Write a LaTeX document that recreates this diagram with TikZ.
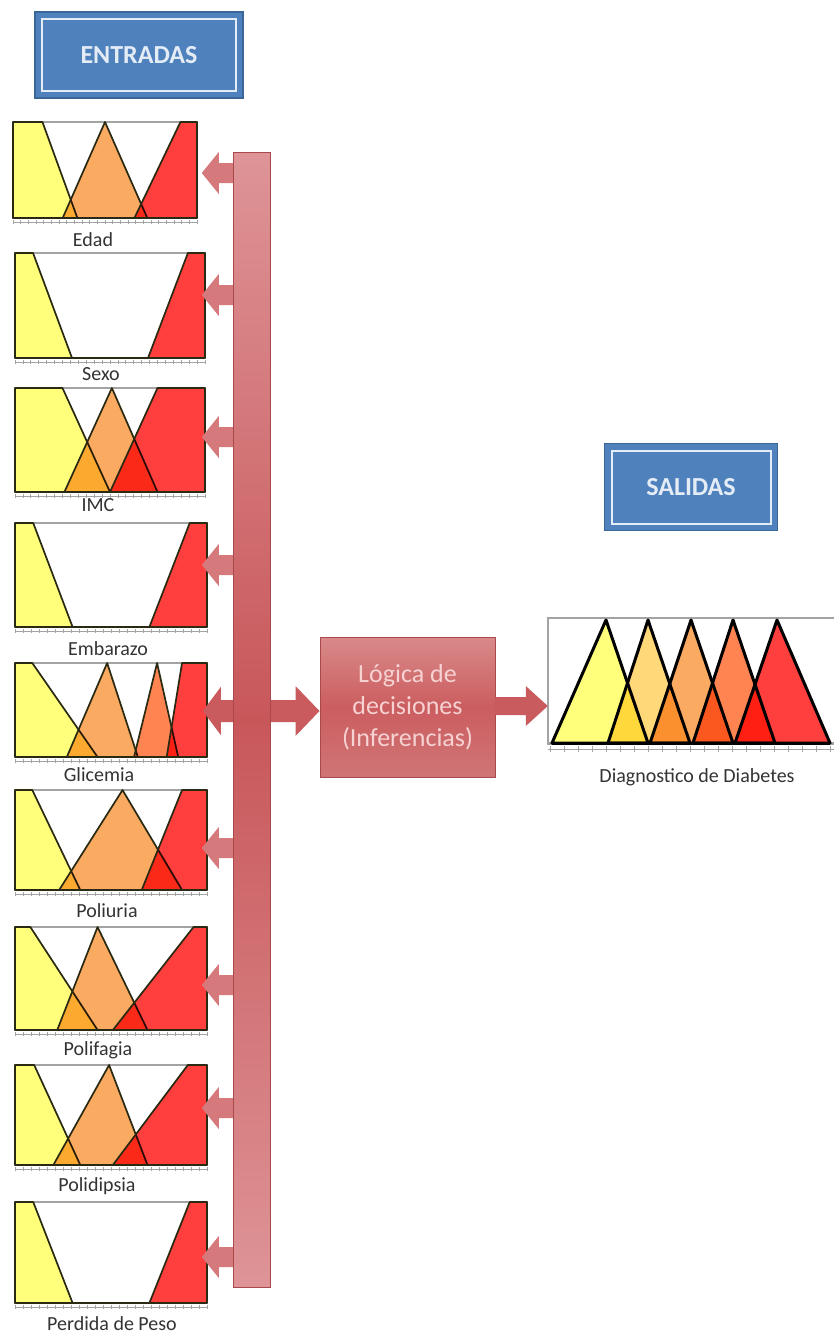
\documentclass[tikz,border=0pt]{standalone}
\usepackage{fontspec}
\setmainfont{Carlito}
\usetikzlibrary{calc,fit}

\definecolor{mfyellow}{HTML}{FFFF7C}
\definecolor{mfpale}{HTML}{FFD87A}
\definecolor{mforange}{HTML}{FBAA62}
\definecolor{mfdorange}{HTML}{FF8452}
\definecolor{mfred}{HTML}{FF3E3E}
\definecolor{mfedge}{HTML}{2A2A12}
\definecolor{mfgray}{HTML}{A3A3A3}
\definecolor{boxblue}{HTML}{4F81BD}
\definecolor{boxblueedge}{HTML}{3B6698}
\definecolor{boxtext}{HTML}{E4ECF6}
\definecolor{barlight}{HTML}{DE9497}
\definecolor{bardark}{HTML}{C8575A}
\definecolor{baredge}{HTML}{A9494C}
\definecolor{arrowpink}{HTML}{D5797C}
\definecolor{arrowred}{HTML}{C95A5D}
\definecolor{logtop}{HTML}{D98A8B}
\definecolor{logmid}{HTML}{CB5D5F}
\definecolor{logbot}{HTML}{D07577}
\definecolor{logtext}{HTML}{F6D2D2}

\tikzset{
  mfframe/.style={draw=mfgray, line width=2.6pt, fill=white, inner sep=0pt},
  mfline/.style={draw=mfedge, line width=1.7pt, line join=round},
  mfbold/.style={draw=black, line width=3pt, line join=round},
  mfbase/.style={draw=mfedge, line width=1.8pt},
  mftick/.style={draw=mfgray, line width=0.8pt},
  lbl/.style={font=\fontsize{20}{24}\selectfont, text=black!80, inner sep=0pt, anchor=base},
  bluebox/.style={draw=boxblueedge, line width=1.5pt, fill=boxblue,
    text=boxtext, font=\fontsize{26}{30}\selectfont\bfseries,
    path picture={\draw[boxtext, line width=2pt]
      ([shift={(7pt,7pt)}]path picture bounding box.south west) rectangle
      ([shift={(-7pt,-7pt)}]path picture bounding box.north east);}},
  barbox/.style={draw=baredge, line width=1pt, inner sep=0pt,
    top color=barlight, bottom color=barlight, middle color=bardark},
  logbox/.style={draw=baredge, line width=1pt, top color=logtop,
    bottom color=logbot, middle color=logmid, text=logtext,
    font=\fontsize{26}{32}\selectfont, align=center,
    minimum width=175pt, minimum height=140pt},
  arrowfill/.style={fill=arrowpink},
  bigarrow/.style={fill=arrowred},
}

% membership function: fill blended, then outline
\newcommand{\mfshape}[2]{%
  \begin{scope}[blend mode=multiply]\fill[#1] #2 -- cycle;\end{scope}
  \draw[mfline] #2 -- cycle;}

% panel: name, x0, top, x1, bottom, shapes (in unit coordinates)
\newcommand{\mfpanel}[6]{%
  \node[mfframe, fit={(#2,#3) (#4,#5)}] (#1) {};
  \pgfmathsetmacro\mfw{#4-#2}\pgfmathsetmacro\mfh{#5-#3}
  \begin{scope}[shift={(#2,#5)}, x=\mfw pt, y=\mfh pt]
    #6
  \end{scope}
  \draw[mfbase] (#2,#5) -- (#4,#5);
  \pgfmathsetmacro\mfstep{(#4-#2)/24}
  \draw[mftick] (#2,#5+4) -- (#4,#5+4);
  \foreach \k in {0,...,24}{\draw[mftick] ({#2+\k*\mfstep},#5+2) -- ({#2+\k*\mfstep},#5+6);}
}

% left-pointing block arrow from the bus bar at height #1
\newcommand{\inarrow}[1]{%
  \coordinate (ay) at (0,#1);
  \coordinate (ab) at (barW |- ay);
  \fill[arrowfill] ($(ab)+(3,-10)$) -- ($(ab)+(-14,-10)$) -- ($(ab)+(-14,-21)$)
    -- ($(ab)+(-31,0)$) -- ($(ab)+(-14,21)$) -- ($(ab)+(-14,10)$)
    -- ($(ab)+(3,10)$) -- cycle;}

\begin{document}
\begin{tikzpicture}[x=1pt, y=-1pt]
\useasboundingbox (0,0) rectangle (835,1333);
\fill[white] (0,0) rectangle (835,1333);

% header boxes
\node[bluebox, minimum width=208pt, minimum height=86pt] (entradas) at (139,55) {ENTRADAS};
\node[bluebox, minimum width=173pt, minimum height=87pt] (salidas) at (691,487) {SALIDAS};

% input variables
\mfpanel{edad}{13}{122}{197}{218}{%
  \mfshape{mfyellow}{(0,0)--(0,1)--(.16,1)--(.35,0)}
  \mfshape{mforange}{(.27,0)--(.5,1)--(.73,0)}
  \mfshape{mfred}{(.66,0)--(.91,1)--(1,1)--(1,0)}}
\node[lbl] (edadlbl) at (93,246) {Edad};

\mfpanel{sexo}{15}{253}{205}{358}{%
  \mfshape{mfyellow}{(0,0)--(0,1)--(.095,1)--(.30,0)}
  \mfshape{mfred}{(.70,0)--(.91,1)--(1,1)--(1,0)}}
\node[lbl] (sexolbl) at (101,380) {Sexo};

\mfpanel{imc}{15}{388}{205}{492}{%
  \mfshape{mfyellow}{(0,0)--(0,1)--(.25,1)--(.50,0)}
  \mfshape{mforange}{(.26,0)--(.51,1)--(.75,0)}
  \mfshape{mfred}{(.50,0)--(.75,1)--(1,1)--(1,0)}}
\node[lbl] (imclbl) at (98,511) {IMC};

\mfpanel{embarazo}{15}{523}{207}{627}{%
  \mfshape{mfyellow}{(0,0)--(0,1)--(.095,1)--(.30,0)}
  \mfshape{mfred}{(.70,0)--(.91,1)--(1,1)--(1,0)}}
\node[lbl] (embarazolbl) at (108,655) {Embarazo};

\mfpanel{glicemia}{15}{663}{207}{757}{%
  \mfshape{mfyellow}{(0,0)--(0,1)--(.09,1)--(.43,0)}
  \mfshape{mforange}{(.27,0)--(.48,1)--(.64,0)}
  \mfshape{mfdorange}{(.62,0)--(.74,1)--(.85,0)}
  \mfshape{mfred}{(.79,0)--(.87,1)--(1,1)--(1,0)}}
\node[lbl] (glicemialbl) at (99,781) {Glicemia};

\mfpanel{poliuria}{15}{790}{207}{890}{%
  \mfshape{mfyellow}{(0,0)--(0,1)--(.09,1)--(.34,0)}
  \mfshape{mforange}{(.23,0)--(.56,1)--(.87,0)}
  \mfshape{mfred}{(.66,0)--(.87,1)--(1,1)--(1,0)}}
\node[lbl] (poliurialbl) at (107,917) {Poliuria};

\mfpanel{polifagia}{15}{927}{207}{1030}{%
  \mfshape{mfyellow}{(0,0)--(0,1)--(.08,1)--(.43,0)}
  \mfshape{mforange}{(.22,0)--(.43,1)--(.69,0)}
  \mfshape{mfred}{(.51,0)--(.93,1)--(1,1)--(1,0)}}
\node[lbl] (polifagialbl) at (98,1055) {Polifagia};

\mfpanel{polidipsia}{15}{1065}{207}{1165}{%
  \mfshape{mfyellow}{(0,0)--(0,1)--(.10,1)--(.34,0)}
  \mfshape{mforange}{(.20,0)--(.49,1)--(.69,0)}
  \mfshape{mfred}{(.51,0)--(.90,1)--(1,1)--(1,0)}}
\node[lbl] (polidipsialbl) at (97,1191) {Polidipsia};

\mfpanel{perdida}{15}{1202}{207}{1303}{%
  \mfshape{mfyellow}{(0,0)--(0,1)--(.095,1)--(.30,0)}
  \mfshape{mfred}{(.70,0)--(.91,1)--(1,1)--(1,0)}}
\node[lbl] (perdidalbl) at (112,1330) {Perdida de Peso};

% inference block and output variable
\node[logbox] (logica) at (407.5,707) {Lógica de\\decisiones\\(Inferencias)};

\node[inner sep=0pt, fit={(548,618) (834,743)}] (salida) {};
\fill[white] (salida.north west) rectangle (salida.south east);
\begin{scope}[blend mode=multiply]
  \fill[mfyellow]  (552,743) -- (606,620) -- (648,743) -- cycle;
  \fill[mfpale]    (608,743) -- (648,620) -- (690,743) -- cycle;
  \fill[mforange]  (650,743) -- (691,620) -- (733,743) -- cycle;
  \fill[mfdorange] (693,743) -- (733,620) -- (775,743) -- cycle;
  \fill[mfred]     (735,743) -- (777,620) -- (830,743) -- cycle;
\end{scope}
\draw[mfgray, line width=2.6pt] (salida.north east) -- (salida.north west)
  -- (salida.south west) -- (salida.south east);
\foreach \a/\p/\b in {552/606/648, 608/648/690, 650/691/733, 693/733/775, 735/777/830}
  \draw[mfbold] (\a,743) -- (\p,620) -- (\b,743) -- cycle;
\draw[mfbold] (552,743) -- (830,743);
\draw[mftick] (548,749) -- (834,749);
\foreach \k in {0,...,20}{\draw[mftick] ({550+\k*14},746) -- ({550+\k*14},752);}
\node[lbl] (salidalbl) at (697,782) {Diagnostico de Diabetes};

% bus bar geometry (drawn after the arrows)
\node[inner sep=0pt, fit={(233,152) (270,1287)}] (barpos) {};
\path (barpos.west) coordinate (barW) (barpos.east) coordinate (barE);

% arrows from the bus bar to every input
\foreach \yy in {173,295,437,565,848,985,1108,1257}{\inarrow{\yy}}

% Glicemia arrow runs on through the bar into the inference block
\coordinate (gy) at (0,711);
\coordinate (gl) at (barW |- gy);
\coordinate (gr) at (logica.west |- gy);
\fill[bigarrow] ($(gl)+(-30,0)$) -- ($(gl)+(-12,-24)$) -- ($(gl)+(-12,-11)$)
  -- ($(gr)+(-24,-11)$) -- ($(gr)+(-24,-25)$) -- (gr) -- ($(gr)+(-24,25)$)
  -- ($(gr)+(-24,11)$) -- ($(gl)+(-12,11)$) -- ($(gl)+(-12,24)$) -- cycle;

% inference block to output
\coordinate (oy) at (0,706);
\coordinate (ol) at (logica.east |- oy);
\coordinate (or) at (salida.west |- oy);
\fill[bigarrow] ($(ol)+(-1,-9)$) -- ($(or)+(-22,-9)$) -- ($(or)+(-22,-20)$)
  -- (or) -- ($(or)+(-22,20)$) -- ($(or)+(-22,9)$) -- ($(ol)+(-1,9)$) -- cycle;

% the bus bar itself
\node[barbox, fit={(233,152) (270,1287)}] (bar) {};
\end{tikzpicture}
\end{document}
